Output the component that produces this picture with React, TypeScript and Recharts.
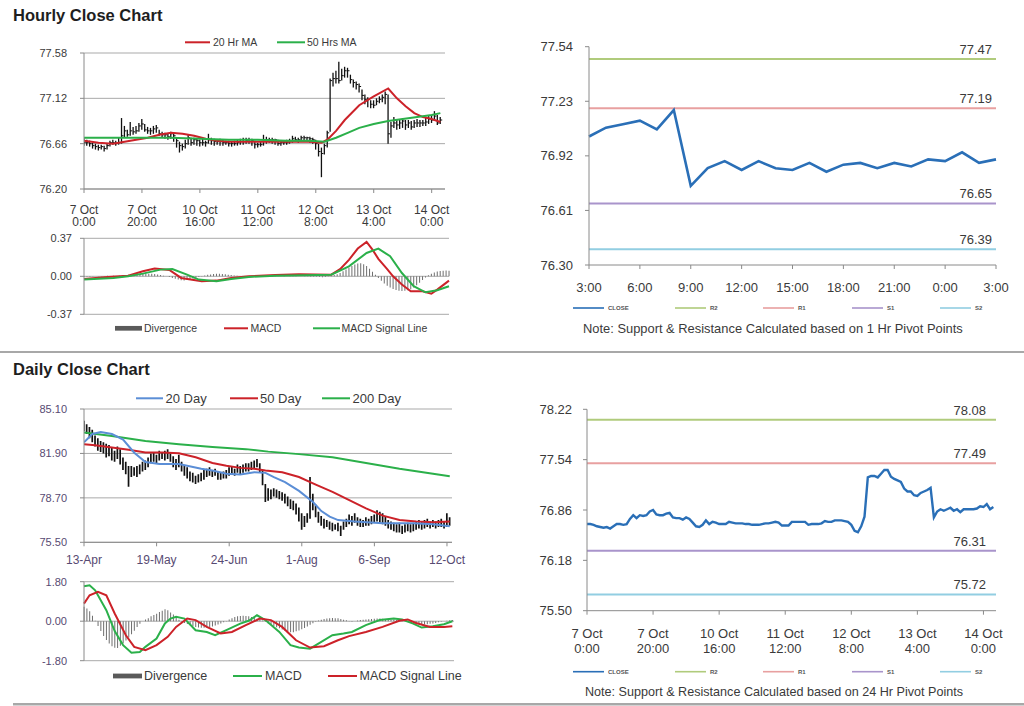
import React from 'react';
import { ComposedChart, Bar, Line, XAxis, YAxis, CartesianGrid, ReferenceLine } from 'recharts';

const FONT = '"Liberation Sans", Arial, sans-serif';

// ---------- hourly data (one entry per hour, 7 Oct 0:00 onwards) ----------
const hourlyClose = [
  76.67, 76.67, 76.66, 76.64, 76.63, 76.62, 76.63, 76.61, 76.64, 76.67,
  76.67, 76.66, 76.67, 76.74, 76.79, 76.75, 76.79, 76.78, 76.79, 76.84,
  76.86, 76.80, 76.79, 76.79, 76.81, 76.82, 76.76, 76.75, 76.75, 76.73,
  76.76, 76.74, 76.69, 76.64, 76.63, 76.66, 76.72, 76.67, 76.70, 76.69,
  76.67, 76.67, 76.67, 76.70, 76.69, 76.68, 76.68, 76.68, 76.67, 76.67,
  76.66, 76.66, 76.66, 76.67, 76.68, 76.68, 76.69, 76.70, 76.69, 76.65,
  76.65, 76.65, 76.70, 76.70, 76.70, 76.70, 76.70, 76.66, 76.67, 76.67,
  76.67, 76.68, 76.71, 76.70, 76.70, 76.72, 76.72, 76.72, 76.71, 76.70,
  76.66, 76.58, 76.56, 76.64, 76.77, 77.30, 77.32, 77.32, 77.30, 77.35,
  77.40, 77.40, 77.31, 77.28, 77.26, 77.24, 77.15, 77.11, 77.11, 77.06,
  77.05, 77.09, 77.11, 77.13, 77.16, 76.76, 76.84, 76.87, 76.85, 76.87,
  76.89, 76.85, 76.87, 76.83, 76.87, 76.87, 76.87, 76.87, 76.88, 76.91,
  76.90, 76.94, 76.87, 76.90,
];
const hourlyHigh = [
  76.72, 76.70, 76.69, 76.67, 76.66, 76.65, 76.65, 76.64, 76.66, 76.69,
  76.70, 76.69, 76.72, 76.92, 76.84, 76.80, 76.88, 76.83, 76.84, 76.87,
  76.91, 76.86, 76.83, 76.82, 76.84, 76.85, 76.80, 76.78, 76.77, 76.76,
  76.78, 76.76, 76.72, 76.68, 76.66, 76.70, 76.75, 76.72, 76.72, 76.71,
  76.70, 76.71, 76.69, 76.76, 76.72, 76.71, 76.70, 76.71, 76.70, 76.69,
  76.69, 76.68, 76.69, 76.70, 76.71, 76.72, 76.72, 76.72, 76.71, 76.69,
  76.67, 76.68, 76.75, 76.73, 76.72, 76.72, 76.71, 76.70, 76.69, 76.69,
  76.70, 76.71, 76.74, 76.73, 76.72, 76.74, 76.74, 76.73, 76.73, 76.72,
  76.70, 76.66, 76.62, 76.66, 76.79, 77.32, 77.38, 77.40, 77.49, 77.42,
  77.44, 77.43, 77.36, 77.31, 77.29, 77.27, 77.21, 77.16, 77.13, 77.10,
  77.10, 77.12, 77.14, 77.16, 77.19, 77.16, 76.88, 76.93, 76.90, 76.91,
  76.92, 76.90, 76.90, 76.89, 76.90, 76.91, 76.90, 76.90, 76.92, 76.94,
  76.95, 76.99, 76.95, 76.93,
];
const hourlyLow = [
  76.64, 76.64, 76.63, 76.61, 76.60, 76.59, 76.60, 76.58, 76.60, 76.63,
  76.65, 76.64, 76.65, 76.66, 76.72, 76.73, 76.74, 76.75, 76.76, 76.78,
  76.80, 76.78, 76.76, 76.75, 76.76, 76.77, 76.74, 76.72, 76.71, 76.70,
  76.71, 76.68, 76.62, 76.57, 76.59, 76.61, 76.65, 76.64, 76.65, 76.64,
  76.63, 76.64, 76.63, 76.66, 76.65, 76.64, 76.65, 76.64, 76.64, 76.65,
  76.63, 76.63, 76.64, 76.64, 76.65, 76.65, 76.66, 76.66, 76.64, 76.61,
  76.62, 76.63, 76.64, 76.66, 76.67, 76.66, 76.65, 76.64, 76.64, 76.65,
  76.65, 76.66, 76.67, 76.68, 76.67, 76.68, 76.69, 76.68, 76.67, 76.66,
  76.60, 76.53, 76.32, 76.55, 76.62, 76.78, 77.24, 77.27, 77.27, 77.30,
  77.33, 77.33, 77.27, 77.23, 77.21, 77.18, 77.10, 77.06, 77.03, 77.02,
  77.02, 77.05, 77.07, 77.08, 77.06, 76.66, 76.72, 76.82, 76.80, 76.81,
  76.82, 76.80, 76.82, 76.80, 76.82, 76.83, 76.83, 76.84, 76.84, 76.86,
  76.87, 76.89, 76.85, 76.86,
];

// moving averages as [hour index, value]
const hourlyMa20 = [
  [0, 76.69], [5, 76.67], [10, 76.66], [14, 76.68], [18, 76.7], [22, 76.72], [26, 76.75],
  [30, 76.77], [34, 76.76], [38, 76.74], [42, 76.71], [46, 76.69], [50, 76.68], [60, 76.68],
  [70, 76.68], [78, 76.68], [82, 76.67], [84, 76.7], [87, 76.79], [90, 76.9], [95, 77.05],
  [100, 77.14], [105, 77.22], [108, 77.12], [111, 77.04], [114, 76.97], [117, 76.93],
  [120, 76.91], [123, 76.88],
];
const hourlyMa50 = [
  [0, 76.72], [10, 76.72], [20, 76.72], [30, 76.72], [40, 76.71], [50, 76.7], [60, 76.7],
  [70, 76.69], [78, 76.69], [83, 76.68], [87, 76.72], [91, 76.77], [95, 76.82], [100, 76.86],
  [105, 76.89], [110, 76.91], [115, 76.93], [120, 76.95], [123, 76.97],
];

const hourlyMacd = [
  [0, -0.026], [8, -0.006], [15, 0.006], [20, 0.049], [24, 0.075], [29, 0.062], [33, -0.016],
  [40, -0.049], [45, -0.042], [50, -0.016], [56, 0], [65, 0.013], [73, 0.02], [84, 0.016],
  [87, 0.07], [90, 0.16], [93, 0.27], [96, 0.334], [98, 0.26], [100, 0.17], [103, 0.07],
  [105, 0], [108, -0.08], [111, -0.146], [115, -0.146], [118, -0.17], [120, -0.13], [124, -0.042],
];
const hourlySignal = [
  [0, -0.032], [10, -0.016], [15, 0], [20, 0.026], [26, 0.065], [30, 0.071], [35, 0.016],
  [39, -0.032], [45, -0.049], [50, -0.026], [56, -0.006], [65, 0.006], [75, 0.01], [84, 0.016],
  [90, 0.097], [96, 0.227], [100, 0.27], [104, 0.195], [108, 0.032], [112, -0.097],
  [116, -0.156], [120, -0.136], [124, -0.097],
];
const hourlyDivergence = [
  -0.006, -0.005, -0.004, -0.002, 0.0, 0.002, 0.003, 0.004, 0.005, 0.004, 0.005, 0.004, 0.006,
  0.01, 0.012, 0.014, 0.015, 0.016, 0.018, 0.02, 0.022, 0.024, 0.026, 0.025, 0.022, 0.018, 0.012, 0.006,
  0.0, -0.008, -0.016, -0.024, -0.032, -0.038, -0.04, -0.036, -0.03, -0.022, -0.014, -0.006,
  0.002, 0.008, 0.014, 0.018, 0.022, 0.024, 0.024, 0.022, 0.02, 0.016, 0.012, 0.009, 0.006, 0.004, 0.002,
  0.002, 0.001, 0.003, 0.002, 0.0, -0.002, 0.001, 0.003, 0.004, 0.003, 0.002, 0.001, 0.0, -0.001,
  0.001, 0.002, 0.003, 0.002, 0.001, 0.0, -0.002, -0.003, -0.004, -0.005, -0.004,
  -0.006, -0.01, -0.008, -0.002, 0.006, 0.012, 0.02, 0.032, 0.048, 0.066, 0.084, 0.1, 0.114,
  0.124, 0.126, 0.118, 0.1, 0.074, 0.044, 0.014,
  -0.016, -0.044, -0.07, -0.092, -0.11, -0.124, -0.134, -0.14, -0.142, -0.14, -0.136, -0.126,
  -0.11, -0.088, -0.062, -0.036, -0.012, 0.01, 0.026, 0.038, 0.046, 0.052, 0.055, 0.056, 0.055,
];

const hourTickIdx = [0, 20, 40, 60, 80, 100, 120];
const hourTickDates = ['7 Oct', '7 Oct', '10 Oct', '11 Oct', '12 Oct', '13 Oct', '14 Oct'];
const hourTickTimes = ['0:00', '20:00', '16:00', '12:00', '8:00', '4:00', '0:00'];

// ---------- 1 hr pivot panel ----------
const pivot1hClose = [
  77.03, 77.08, 77.1, 77.12, 77.07, 77.18, 76.75, 76.85, 76.89, 76.84, 76.89, 76.85, 76.84,
  76.88, 76.83, 76.87, 76.88, 76.85, 76.88, 76.86, 76.9, 76.89, 76.94, 76.88, 76.9,
];
const pivot1hTickIdx = [0, 3, 6, 9, 12, 15, 18, 21, 24];
const pivot1hTickLabels = ['3:00', '6:00', '9:00', '12:00', '15:00', '18:00', '21:00', '0:00', '3:00'];
const pivotNames = ['R2', 'R1', 'S1', 'S2'];
const pivot1hLevels = [77.47, 77.19, 76.65, 76.39];
const pivot24hLevels = [78.08, 77.49, 76.31, 75.72];

// ---------- daily data (13-Apr onwards) ----------
const dailyHigh = [
  84.25, 84.0, 83.8, 83.6, 83.2, 83.0, 82.8, 82.7, 82.6, 82.5,
  82.3, 82.1, 82.4, 82.2, 81.6, 81.3, 81.0, 81.0, 80.9, 81.0,
  81.1, 81.3, 81.4, 81.6, 81.9, 82.0, 81.8, 82.1, 82.0, 82.1,
  82.2, 81.9, 81.7, 81.5, 81.8, 81.3, 81.0, 80.9, 80.6, 80.5,
  80.3, 80.4, 80.5, 80.7, 80.8, 80.9, 80.7, 80.8, 80.6, 80.5,
  80.6, 80.7, 80.9, 81.0, 80.8, 81.1, 81.0, 81.1, 81.2, 81.2,
  81.3, 81.4, 81.5, 81.2, 80.7, 79.7, 79.4, 79.3, 79.4, 79.3,
  79.2, 79.1, 79.0, 78.8, 78.6, 78.5, 78.3, 78.0, 77.6, 77.4,
  77.6, 80.2, 79.0, 78.2, 77.7, 77.4, 77.2, 77.1, 77.0, 76.9,
  76.8, 76.9, 76.7, 77.0, 77.2, 77.5, 77.4, 77.6, 77.3, 77.2,
  77.1, 77.3, 77.2, 77.4, 77.5, 77.8, 77.7, 77.6, 77.4, 77.1,
  77.0, 76.9, 76.8, 76.9, 76.7, 76.8, 76.9, 76.8, 76.9, 77.0,
  77.1, 77.0, 77.1, 77.2, 77.0, 77.1, 77.0, 77.1, 77.2, 77.0,
  77.6, 77.3,
];
const dailyLow = [
  83.5, 83.3, 83.0, 82.7, 82.4, 82.1, 82.0, 81.9, 81.6, 81.7,
  81.4, 81.3, 81.5, 81.1, 80.7, 80.4, 79.5, 80.2, 80.3, 80.2,
  80.4, 80.6, 80.7, 80.9, 81.2, 81.3, 81.2, 81.4, 81.5, 81.4,
  81.5, 81.3, 80.9, 80.7, 80.9, 80.6, 80.3, 80.1, 79.9, 79.8,
  79.7, 79.8, 79.9, 80.0, 80.2, 80.3, 80.2, 80.3, 80.0, 80.0,
  80.1, 80.1, 80.3, 80.4, 80.3, 80.5, 80.4, 80.5, 80.6, 80.6,
  80.7, 80.8, 80.9, 80.5, 79.6, 78.4, 78.5, 78.6, 78.8, 78.7,
  78.6, 78.5, 78.3, 78.1, 77.9, 77.8, 77.5, 77.0, 76.4, 76.6,
  76.9, 77.2, 77.8, 77.3, 76.9, 76.7, 76.5, 76.6, 76.4, 76.3,
  76.4, 76.3, 75.95, 76.4, 76.6, 76.8, 76.7, 76.9, 76.7, 76.6,
  76.6, 76.7, 76.7, 76.8, 76.9, 77.0, 76.9, 76.8, 76.7, 76.5,
  76.4, 76.3, 76.2, 76.2, 76.1, 76.2, 76.3, 76.2, 76.3, 76.4,
  76.5, 76.4, 76.5, 76.6, 76.5, 76.6, 76.5, 76.6, 76.6, 76.5,
  76.6, 76.7,
];

const dailyMa20 = [
  [0, 82.7], [3, 83.3], [6, 83.45], [10, 83.3], [14, 82.9], [18, 81.95], [22, 81.28], [27, 81.14],
  [34, 81.14], [42, 80.8], [46, 80.67], [51, 80.43], [56, 80.38], [61, 80.55], [65, 80.5],
  [68, 80.2], [72, 79.84], [77, 79.2], [82, 78.4], [85, 77.75], [88, 77.35], [91, 77.1],
  [97, 77.0], [107, 76.88], [118, 76.88], [125, 76.8], [131, 76.65],
];
const dailyMa50 = [
  [0, 82.56], [4, 82.49], [10, 82.33], [16, 82.16], [22, 81.97], [28, 81.97], [34, 81.92],
  [40, 81.62], [46, 81.21], [51, 81.02], [56, 80.86], [61, 80.79], [65, 80.67], [71, 80.55],
  [77, 80.2], [83, 79.65], [89, 79.13], [95, 78.53], [101, 77.94], [107, 77.42], [113, 77.11],
  [119, 77.0], [125, 76.95], [131, 77.0],
];
const dailyMa200 = [
  [0, 83.4], [10, 83.16], [22, 82.8], [34, 82.56], [46, 82.37], [58, 82.21], [66, 82.03],
  [77, 81.85], [89, 81.62], [101, 81.21], [113, 80.79], [125, 80.43], [131, 80.26],
];

const dailyMacd = [
  [0, 1.59], [2, 1.64], [4, 1.41], [8, 0.5], [11, -0.45], [14, -1.09], [17, -1.44], [20, -1.4],
  [22, -1.17], [26, -0.79], [29, -0.1], [31, 0.12], [33, 0.2], [36, 0.12], [40, -0.41],
  [44, -0.49], [47, -0.64], [51, -0.41], [56, -0.11], [59, 0.02], [62, 0.27], [65, 0.05],
  [70, -0.49], [74, -1.09], [77, -1.2], [81, -1.25], [84, -1.02], [89, -0.64], [93, -0.56],
  [96, -0.49], [101, -0.18], [106, 0.05], [111, 0.12], [114, 0.08], [118, -0.11], [121, -0.29],
  [125, -0.23], [129, -0.14], [132, 0],
];
const dailySignal = [
  [0, 0.8], [2, 1.18], [5, 1.34], [8, 1.18], [11, 0.35], [15, -0.64], [18, -1.17], [22, -1.32],
  [26, -1.09], [30, -0.71], [33, -0.26], [37, 0.12], [40, 0.05], [44, -0.26], [49, -0.56],
  [53, -0.49], [58, -0.18], [63, 0.12], [67, 0.05], [71, -0.26], [76, -0.87], [81, -1.2],
  [86, -1.14], [91, -0.87], [95, -0.68], [101, -0.49], [107, -0.26], [113, 0.02], [116, 0.08],
  [119, -0.08], [124, -0.26], [129, -0.26], [132, -0.23],
];
const dailyDivergence = [
  0.66, 0.58, 0.45, 0.25, 0.02, -0.22, -0.45, -0.68, -0.86, -1.02,
  -1.14, -1.21, -1.22, -1.12, -1.0, -0.88, -0.74, -0.6, -0.44, -0.26,
  -0.12, 0.0, 0.08, 0.14, 0.22, 0.28, 0.34, 0.42, 0.48, 0.54,
  0.5, 0.4, 0.3, 0.18, 0.07, -0.03, -0.08, -0.13, -0.18, -0.22,
  -0.26, -0.29, -0.3, -0.3, -0.29, -0.27, -0.24, -0.2, -0.15, -0.1,
  -0.05, -0.01, 0.08, 0.14, 0.19, 0.22, 0.24, 0.25, 0.24, 0.22,
  0.19, 0.15, 0.11, 0.07, 0.03, -0.03, -0.1, -0.17, -0.22, -0.27,
  -0.32, -0.38, -0.44, -0.47, -0.5, -0.5, -0.46, -0.42, -0.37, -0.31,
  -0.24, -0.16, -0.09, -0.02, 0.03, 0.07, 0.1, 0.12, 0.14, 0.15,
  0.14, 0.13, 0.1, 0.07, 0.04, 0.01, -0.02, 0.0, 0.03, 0.05,
  0.07, 0.08, 0.09, 0.1, 0.11, 0.12, 0.12, 0.11, 0.1, 0.09,
  0.08, 0.07, 0.06, 0.05, 0.03, 0.0, -0.03, -0.06, -0.08, -0.11,
  -0.14, -0.15, -0.15, -0.14, -0.12, -0.1, -0.08, -0.05, -0.03, 0.0,
  0.02, 0.04, 0.06,
];
const dayTickIdx = [0, 26, 52, 78, 104, 130];
const dayTickLabels = ['13-Apr', '19-May', '24-Jun', '1-Aug', '6-Sep', '12-Oct'];

// ---------- helpers ----------
const fmt2 = (v: number) => v.toFixed(2);
const pairValue = (pairs: number[][], i: number) => {
  const hit = pairs.find((p) => p[0] === i);
  return hit ? hit[1] : null;
};

const hourlyRows = hourlyClose.map((close, i) => ({
  i,
  close,
  range: [hourlyLow[i], hourlyHigh[i]],
  ma20: pairValue(hourlyMa20, i),
  ma50: pairValue(hourlyMa50, i),
}));
const hourlyMacdRows = hourlyDivergence.map((div, i) => ({
  i,
  div,
  macd: pairValue(hourlyMacd, i),
  signal: pairValue(hourlySignal, i),
}));
const dailyRows = dailyHigh.map((hi, i) => ({
  i,
  range: [dailyLow[i], hi],
  ma20: pairValue(dailyMa20, i),
  ma50: pairValue(dailyMa50, i),
  ma200: pairValue(dailyMa200, i),
}));
const dailyMacdRows = dailyDivergence.map((div, i) => ({
  i,
  div,
  macd: pairValue(dailyMacd, i),
  signal: pairValue(dailySignal, i),
}));
const pivot1hRows = pivot1hClose.map((close, i) => ({ i, close }));
const pivot24hRows = hourlyClose.map((close, i) => ({ i, close }));

// ---------- styles ----------
const AXIS = '#8a8a8a';
const GRID = '#a9a9a9';
const RED = '#cc2229';
const GREEN = '#2bb04a';
const BLUE20 = '#5b8ed6';
const CLOSE_BLUE = '#2a6fb7';
const PIVOT_COLORS = ['#b0cb7c', '#e8a0a0', '#a994cb', '#92cee2'];
const TXT = '#3a3a3a';
const DAILY_TXT = '#574a72';

const PriceBar = (props: any) => {
  const { x, y, width, height, payload } = props;
  if (x == null || y == null || !payload) return <g />;
  const cx = x + width / 2;
  const top = Math.min(y, y + height);
  const bottom = Math.max(y, y + height);
  const [lo, hi] = payload.range;
  const closeY =
    payload.close != null && hi > lo ? top + ((hi - payload.close) / (hi - lo)) * (bottom - top) : null;
  return (
    <g>
      <line x1={cx} x2={cx} y1={top} y2={bottom} stroke="#111" strokeWidth={closeY != null ? 1.3 : 1.7} />
      {closeY != null && <line x1={cx} x2={cx + 2} y1={closeY} y2={closeY} stroke="#111" strokeWidth={1} />}
    </g>
  );
};

const twoLineTick = (size: number, first: number, gap: number) => (p: any) => {
  const k = hourTickIdx.indexOf(p.payload.value);
  return (
    <text x={p.x} y={p.y + first} textAnchor="middle" fontSize={size} fill={TXT}>
      <tspan x={p.x}>{hourTickDates[k]}</tspan>
      <tspan x={p.x} dy={gap}>
        {hourTickTimes[k]}
      </tspan>
    </text>
  );
};

const pivotLabel = (text: string, right: number, up: number) => (props: any) => {
  const vb = props.viewBox || { x: 0, y: 0, width: 0 };
  return (
    <text x={vb.x + vb.width - right} y={vb.y - up} textAnchor="end" dominantBaseline="central" fontSize={13} fill={TXT}>
      {text}
    </text>
  );
};

// ---------- panels ----------
const HourlyPrice = () => (
  <ComposedChart width={460} height={230} data={hourlyRows} margin={{ top: 53, right: 15, bottom: 5, left: 0 }}>
    <CartesianGrid vertical={false} stroke={GRID} />
    <XAxis
      type="number"
      dataKey="i"
      domain={[0, 124.6]}
      ticks={hourTickIdx}
      interval={0}
      height={36}
      tickSize={4}
      tickMargin={0}
      stroke={AXIS}
      tick={twoLineTick(12, 20.5, 12.8)}
      allowDataOverflow
    />
    <YAxis
      domain={[76.2, 77.58]}
      ticks={[76.2, 76.66, 77.12, 77.58]}
      interval={0}
      width={84}
      tickSize={4}
      tickMargin={13}
      stroke={AXIS}
      tick={{ fontSize: 11, fill: TXT }}
      tickFormatter={fmt2}
      allowDataOverflow
    />
    <Bar dataKey="range" barSize={3} shape={PriceBar} isAnimationActive={false} />
    <Line dataKey="ma20" stroke={RED} strokeWidth={2} dot={false} connectNulls isAnimationActive={false} />
    <Line dataKey="ma50" stroke={GREEN} strokeWidth={2} dot={false} connectNulls isAnimationActive={false} />
  </ComposedChart>
);

const HourlyMacd = () => (
  <ComposedChart width={460} height={100} data={hourlyMacdRows} margin={{ top: 18.3, right: 11, bottom: 5.7, left: 0 }}>
    <CartesianGrid vertical={false} stroke={GRID} />
    <XAxis type="number" dataKey="i" domain={[0, 124]} hide />
    <YAxis
      domain={[-0.37, 0.37]}
      ticks={[-0.37, 0, 0.37]}
      interval={0}
      width={84}
      tickSize={4}
      tickMargin={8}
      stroke={AXIS}
      tick={{ fontSize: 11, fill: TXT }}
      tickFormatter={fmt2}
      allowDataOverflow
    />
    <Bar dataKey="div" barSize={1} fill="#6e6e6e" isAnimationActive={false} />
    <Line dataKey="macd" stroke={RED} strokeWidth={2} dot={false} connectNulls isAnimationActive={false} />
    <Line dataKey="signal" stroke={GREEN} strokeWidth={2} dot={false} connectNulls isAnimationActive={false} />
  </ComposedChart>
);

const Pivot1h = () => (
  <ComposedChart width={504} height={290} data={pivot1hRows} margin={{ top: 26.7, right: 28, bottom: 5, left: 0 }}>
    <XAxis
      type="number"
      dataKey="i"
      domain={[0, 24]}
      ticks={pivot1hTickIdx}
      interval={0}
      height={40}
      tickSize={4}
      tickMargin={13.7}
      stroke={AXIS}
      tick={{ fontSize: 13, fill: TXT }}
      tickFormatter={(v: number) => pivot1hTickLabels[pivot1hTickIdx.indexOf(v)]}
    />
    <YAxis
      domain={[76.3, 77.54]}
      ticks={[76.3, 76.61, 76.92, 77.23, 77.54]}
      interval={0}
      width={69}
      tickSize={4}
      tickMargin={12}
      stroke={AXIS}
      tick={{ fontSize: 13, fill: TXT }}
      tickFormatter={fmt2}
      allowDataOverflow
    />
    {pivot1hLevels.map((v, k) => (
      <ReferenceLine key={pivotNames[k]} y={v} stroke={PIVOT_COLORS[k]} strokeWidth={2} label={pivotLabel(fmt2(v), 4, 9.5)} />
    ))}
    <Line dataKey="close" stroke={CLOSE_BLUE} strokeWidth={2.6} dot={false} isAnimationActive={false} />
  </ComposedChart>
);

const DailyPrice = () => (
  <ComposedChart width={470} height={230} data={dailyRows} margin={{ top: 49, right: 18, bottom: 5.7, left: 0 }}>
    <CartesianGrid vertical={false} stroke={GRID} />
    <XAxis
      type="number"
      dataKey="i"
      domain={[0, 131.8]}
      ticks={dayTickIdx}
      interval={0}
      height={42}
      tickSize={4}
      tickMargin={9.5}
      stroke={AXIS}
      tick={{ fontSize: 12, fill: DAILY_TXT }}
      tickFormatter={(v: number) => dayTickLabels[dayTickIdx.indexOf(v)]}
      allowDataOverflow
    />
    <YAxis
      domain={[75.5, 85.1]}
      ticks={[75.5, 78.7, 81.9, 85.1]}
      interval={0}
      width={84}
      tickSize={4}
      tickMargin={13}
      stroke={AXIS}
      tick={{ fontSize: 11, fill: DAILY_TXT }}
      tickFormatter={fmt2}
      allowDataOverflow
    />
    <Bar dataKey="range" barSize={3} shape={PriceBar} isAnimationActive={false} />
    <Line dataKey="ma200" stroke={GREEN} strokeWidth={2} dot={false} connectNulls isAnimationActive={false} />
    <Line dataKey="ma50" stroke={RED} strokeWidth={2} dot={false} connectNulls isAnimationActive={false} />
    <Line dataKey="ma20" stroke={BLUE20} strokeWidth={2} dot={false} connectNulls isAnimationActive={false} />
  </ComposedChart>
);

const DailyMacd = () => (
  <ComposedChart width={470} height={100} data={dailyMacdRows} margin={{ top: 11.7, right: 16, bottom: 9.3, left: 0 }}>
    <CartesianGrid vertical={false} stroke={GRID} />
    <XAxis type="number" dataKey="i" domain={[0, 132.6]} hide />
    <YAxis
      domain={[-1.8, 1.8]}
      ticks={[-1.8, 0, 1.8]}
      interval={0}
      width={84}
      tickSize={4}
      tickMargin={13}
      stroke={AXIS}
      tick={{ fontSize: 11, fill: DAILY_TXT }}
      tickFormatter={fmt2}
      allowDataOverflow
    />
    <Bar dataKey="div" barSize={1} fill="#6e6e6e" isAnimationActive={false} />
    <Line dataKey="macd" stroke={GREEN} strokeWidth={2} dot={false} connectNulls isAnimationActive={false} />
    <Line dataKey="signal" stroke={RED} strokeWidth={2} dot={false} connectNulls isAnimationActive={false} />
  </ComposedChart>
);

const Pivot24h = () => (
  <ComposedChart width={504} height={290} data={pivot24hRows} margin={{ top: 29.3, right: 28, bottom: 5.3, left: 0 }}>
    <XAxis
      type="number"
      dataKey="i"
      domain={[0, 123.8]}
      ticks={hourTickIdx}
      interval={0}
      height={54}
      tickSize={4}
      tickMargin={0}
      stroke={AXIS}
      tick={twoLineTick(13, 23.5, 14.5)}
    />
    <YAxis
      domain={[75.5, 78.22]}
      ticks={[75.5, 76.18, 76.86, 77.54, 78.22]}
      interval={0}
      width={67}
      tickSize={4}
      tickMargin={11}
      stroke={AXIS}
      tick={{ fontSize: 13, fill: TXT }}
      tickFormatter={fmt2}
      allowDataOverflow
    />
    {pivot24hLevels.map((v, k) => (
      <ReferenceLine key={pivotNames[k]} y={v} stroke={PIVOT_COLORS[k]} strokeWidth={2} label={pivotLabel(fmt2(v), 10, 9.6)} />
    ))}
    <Line dataKey="close" stroke={CLOSE_BLUE} strokeWidth={2.4} dot={false} isAnimationActive={false} />
  </ComposedChart>
);

// ---------- titles, legends, notes ----------
const Swatch = ({ x, y, w, color, h = 2 }: any) => <rect x={x} y={y - h / 2} width={w} height={h} fill={color} />;
const T = ({ x, y, size, children, fill = TXT, weight }: any) => (
  <text x={x} y={y} fontSize={size} fill={fill} fontWeight={weight} dominantBaseline="central">
    {children}
  </text>
);

const PivotLegend = ({ y }: { y: number }) => {
  const xs = [573, 675, 763, 852, 940];
  const names = ['CLOSE', ...pivotNames];
  const colors = [CLOSE_BLUE, ...PIVOT_COLORS];
  return (
    <g>
      {names.map((n, k) => (
        <g key={n}>
          <Swatch x={xs[k]} y={y} w={31} color={colors[k]} h={1.6} />
          <T x={xs[k] + 35} y={y} size={6} fill="#555" weight="bold">
            {n}
          </T>
        </g>
      ))}
    </g>
  );
};

const Overlay = () => (
  <svg width={1024} height={706} style={{ position: 'absolute', left: 0, top: 0 }} fontFamily={FONT}>
    <T x={13} y={15} size={16.5} weight="bold" fill="#1e1e1e">Hourly Close Chart</T>
    <T x={13} y={368.5} size={16.5} weight="bold" fill="#1e1e1e">Daily Close Chart</T>
    <rect x={0} y={351} width={1024} height={2} fill="#a8a8a8" />
    <rect x={13} y={703} width={1011} height={2.5} fill="#a8a8a8" />

    <Swatch x={185} y={42.3} w={25} color={RED} />
    <T x={213} y={42.3} size={10.5}>20 Hr MA</T>
    <Swatch x={277} y={42.3} w={28} color={GREEN} />
    <T x={307} y={42.3} size={10.5}>50 Hrs MA</T>

    <Swatch x={115} y={328.3} w={27} color="#5a5a5a" h={4.7} />
    <T x={144} y={328.3} size={10.5}>Divergence</T>
    <Swatch x={224} y={328.3} w={24} color={RED} />
    <T x={250.5} y={328.3} size={10.5}>MACD</T>
    <Swatch x={313} y={328.3} w={27} color={GREEN} />
    <T x={341.5} y={328.3} size={10.5}>MACD Signal Line</T>

    <Swatch x={136} y={398.3} w={27} color={BLUE20} />
    <T x={165.5} y={398.3} size={13}>20 Day</T>
    <Swatch x={230} y={398.3} w={28} color={RED} />
    <T x={260} y={398.3} size={13}>50 Day</T>
    <Swatch x={322} y={398.3} w={28} color={GREEN} />
    <T x={352.5} y={398.3} size={13}>200 Day</T>

    <Swatch x={113} y={676} w={29} color="#5a5a5a" h={4.8} />
    <T x={144} y={676} size={12.5}>Divergence</T>
    <Swatch x={233} y={676} w={29} color={GREEN} />
    <T x={265} y={676} size={12.5}>MACD</T>
    <Swatch x={328} y={676} w={29} color={RED} />
    <T x={359.5} y={676} size={12.5}>MACD Signal Line</T>

    <PivotLegend y={308} />
    <T x={583} y={328.3} size={12.9}>Note: Support &amp; Resistance Calculated based on 1 Hr Pivot Points</T>
    <PivotLegend y={671.7} />
    <T x={585} y={691.7} size={12.6}>Note: Support &amp; Resistance Calculated based on 24 Hr Pivot Points</T>
  </svg>
);

export default function App() {
  return (
    <div
      style={{
        position: 'absolute',
        left: 0,
        top: 0,
        width: 1024,
        height: 706,
        background: '#fff',
        fontFamily: FONT,
        overflow: 'hidden',
      }}
    >
      <div style={{ position: 'absolute', left: 0, top: 0 }}>
        <HourlyPrice />
      </div>
      <div style={{ position: 'absolute', left: 0, top: 220 }}>
        <HourlyMacd />
      </div>
      <div style={{ position: 'absolute', left: 520, top: 20 }}>
        <Pivot1h />
      </div>
      <div style={{ position: 'absolute', left: 0, top: 360 }}>
        <DailyPrice />
      </div>
      <div style={{ position: 'absolute', left: 0, top: 570 }}>
        <DailyMacd />
      </div>
      <div style={{ position: 'absolute', left: 520, top: 380 }}>
        <Pivot24h />
      </div>
      <Overlay />
    </div>
  );
}
